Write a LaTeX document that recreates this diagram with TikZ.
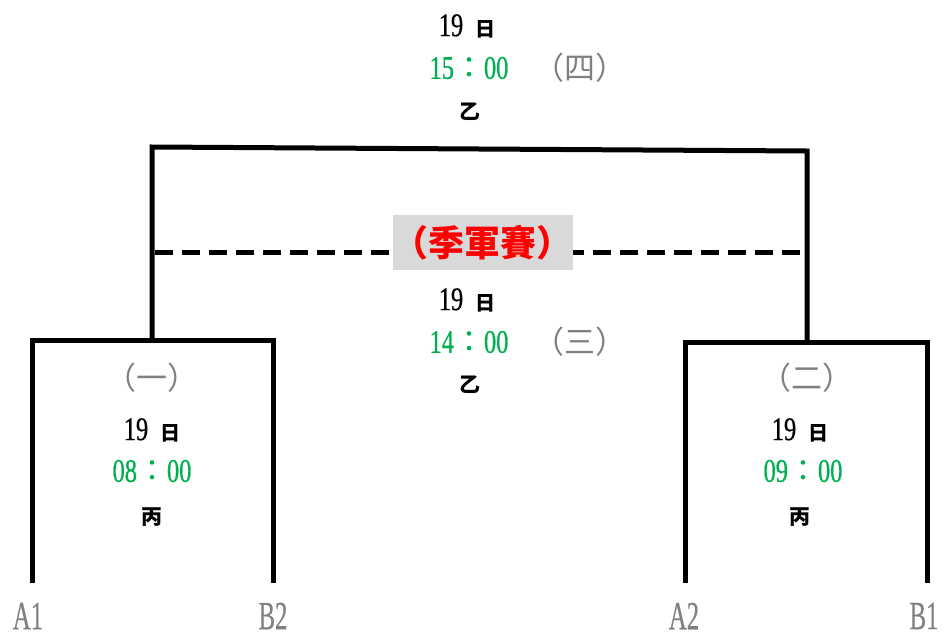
\documentclass[tikz,border=0pt]{standalone}
\usepackage{fontspec}
\setmainfont{Liberation Serif}[FakeStretch=0.78]
\newfontfamily\digfont{Liberation Serif}[FakeStretch=0.74,FakeBold=0.6]
\newfontfamily\cjk{Noto Sans CJK TC}
\newfontfamily\labfont{Liberation Serif}[FakeStretch=0.62,FakeBold=0.4]
\definecolor{grn}{HTML}{00B050}
\definecolor{gry}{HTML}{808080}
\definecolor{lblbg}{HTML}{D9D9D9}
\newcommand\dayt{{\digfont\fontsize{33}{35}\selectfont 19}\hspace{12pt}{\cjk\bfseries\fontsize{20}{22}\selectfont 日}}
\newcommand\tm[2]{{\color{grn}\digfont\fontsize{33}{35}\selectfont #1{\cjk\fontsize{30}{32}\selectfont：}#2}}
\newcommand\gp[1]{{\color{gry}\cjk\fontsize{31}{33}\selectfont （#1）}}
\newcommand\vn[1]{{\cjk\bfseries\fontsize{21}{23}\selectfont #1}}
\begin{document}
\begin{tikzpicture}[x=1pt,y=-1pt,
  txt/.style={inner sep=0pt,anchor=center},
  bline/.style={line width=5pt,line join=miter,line cap=rect},
  dline/.style={line width=5pt,dash pattern=on 18pt off 9pt},
  team/.style={inner sep=0pt,text=gry,font=\labfont\fontsize{40}{42}\selectfont}]
\path[use as bounding box] (0,0) rectangle (947,640);
% coordinates
\coordinate (a1) at (32,580);
\coordinate (l1) at (32,340);
\coordinate (r1) at (273,340);
\coordinate (b2) at (273,580);
\coordinate (a2) at (685,580);
\coordinate (l2) at (685,342);
\coordinate (r2) at (927,342);
\coordinate (b1) at (927,580);
\coordinate (m1) at (152,340);
\coordinate (m2) at (807,342);
\coordinate (t1) at (152,147);
\coordinate (t2) at (807,151);
\coordinate (dl) at (155,252);
\coordinate (dr) at (800,252);
% lines
\draw[bline] (a1) -- (l1) -- (r1) -- (b2);
\draw[bline] (a2) -- (l2) -- (r2) -- (b1);
\draw[bline] (m1) -- (t1) -- (t2) -- (m2);
% label
\node[fill=lblbg,minimum width=171pt,minimum height=55pt,inner sep=0pt,text=red,
  font=\cjk\bfseries\fontsize{36}{38}\selectfont] (lab) at (482.5,242.5) {（季軍賽）};
\draw[dline] (dl) -- (dl -| lab.west);
\draw[dline] (dr) -- (dr -| lab.east);
% final (4)
\node[txt] (d4) at (467,26) {\dayt};
\node[txt] (h4) at (469,68) {\tm{15}{00}};
\node[txt] (n4) at (580,68) {\gp{四}};
\node[txt] (g4) at (470,112) {\vn{乙}};
% (3)
\node[txt] (d3) at (467,300) {\dayt};
\node[txt] (h3) at (469,342) {\tm{14}{00}};
\node[txt] (n3) at (580,342) {\gp{三}};
\node[txt] (g3) at (470,385) {\vn{乙}};
% (1)
\node[txt] (n1) at (152,378) {\gp{一}};
\node[txt] (d1) at (152,430) {\dayt};
\node[txt] (h1) at (152,471) {\tm{08}{00}};
\node[txt] (g1) at (152,517) {\vn{丙}};
% (2)
\node[txt] (n2) at (807,378) {\gp{二}};
\node[txt] (d2) at (800,430) {\dayt};
\node[txt] (h2) at (803,471) {\tm{09}{00}};
\node[txt] (g2) at (800,517) {\vn{丙}};
% teams
\node[team] (A1) at (28,616) {A1};
\node[team] (B2) at (273,616) {B2};
\node[team] (A2) at (684,616) {A2};
\node[team] (B1) at (924,616) {B1};
\end{tikzpicture}
\end{document}
